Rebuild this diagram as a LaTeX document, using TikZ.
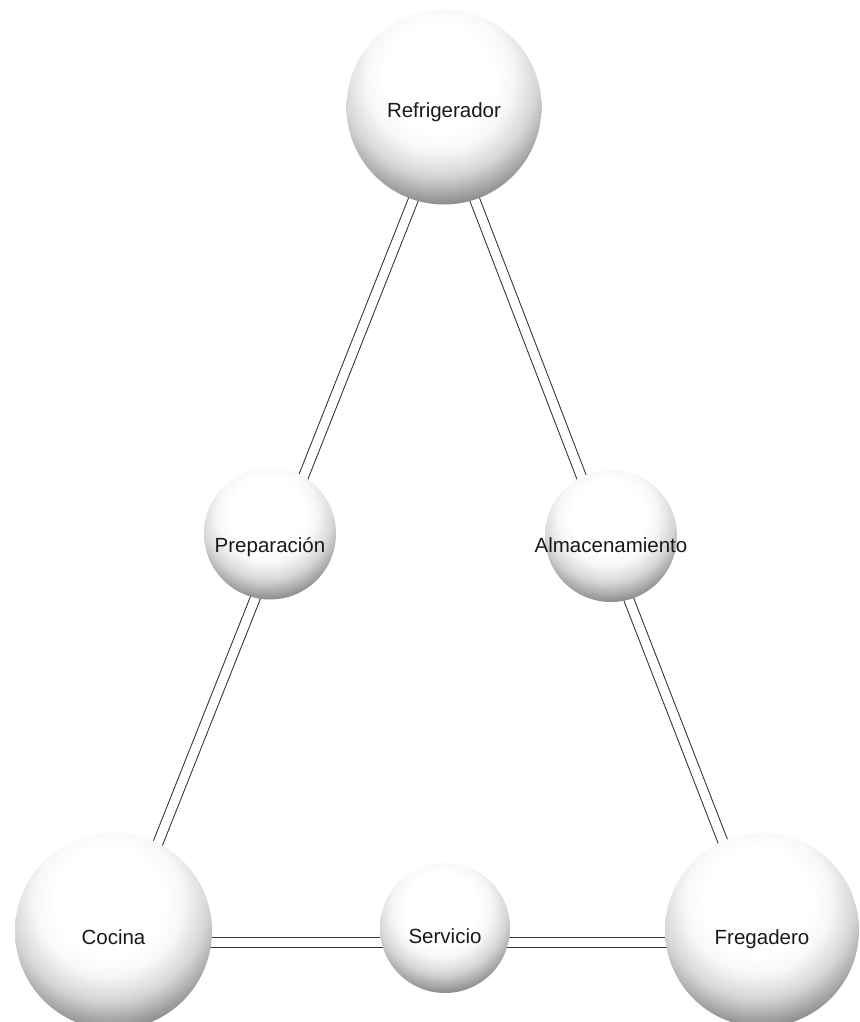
\documentclass[tikz,border=0pt]{standalone}
\usepackage{fontspec}
\setmainfont{Liberation Sans}
\usetikzlibrary{backgrounds}

% soft white ball, lit from above (25bp = radius of the shaded disc)
\pgfdeclareradialshading{sphereball}{\pgfpoint{0bp}{0bp}}{%
  color(0bp)=(white); color(9.8bp)=(white); color(13.4bp)=(black!3);
  color(17.9bp)=(black!16); color(20.5bp)=(black!30); color(23.2bp)=(black!45);
  color(25bp)=(black!50); color(50bp)=(black!50)}

% text lowered by #1 pt from the ball centre, taking no room
\newcommand\balltext[2]{\raisebox{-#1pt}[0pt][0pt]{\makebox[0pt]{#2}}}

\begin{document}
\begin{tikzpicture}[x=1pt,y=-1pt,
  ball/.style={circle, inner sep=0pt, minimum size=2*#1 pt,
    font=\fontsize{20.5}{24}\selectfont, text=black!90,
    path picture={\shade[shading=sphereball]
      ([xshift=-0.05*#1 pt, yshift=0.3*#1 pt]path picture bounding box.center)
      circle [radius=1.4*#1 pt];}},
  link/.style={draw=black!80, line width=1pt, double=white, double distance=9pt}]

\useasboundingbox (0,0) rectangle (859,1022);

% the six stations
\node[ball=97.5] (ref)  at (444,107)   {\balltext{10}{Refrigerador}};
\node[ball=66]   (prep) at (270,533.5) {\balltext{18.5}{Preparación}};
\node[ball=66]   (alm)  at (611,536)   {\balltext{16}{Almacenamiento}};
\node[ball=98.5] (coc)  at (113.5,931) {\balltext{13}{Cocina}};
\node[ball=65]   (serv) at (445,928)   {\balltext{15}{Servicio}};
\node[ball=97]   (freg) at (762,930)   {\balltext{14}{Fregadero}};

% where the links meet each ball
\coordinate (ref-j)  at (444.5,121);
\coordinate (prep-j) at (275.6,547);
\coordinate (alm-j)  at (609.6,550);
\coordinate (coc-j)  at (118.5,942.3);
\coordinate (serv-j) at (445,942.3);
\coordinate (freg-j) at (762,942.3);

\begin{pgfonlayer}{background}
  \draw[link] (ref-j) -- (prep-j);
  \draw[link] (prep-j) -- (coc-j);
  \draw[link] (coc-j) -- (serv-j);
  \draw[link] (serv-j) -- (freg-j);
  \draw[link] (freg-j) -- (alm-j);
  \draw[link] (alm-j) -- (ref-j);
\end{pgfonlayer}
\end{tikzpicture}
\end{document}
